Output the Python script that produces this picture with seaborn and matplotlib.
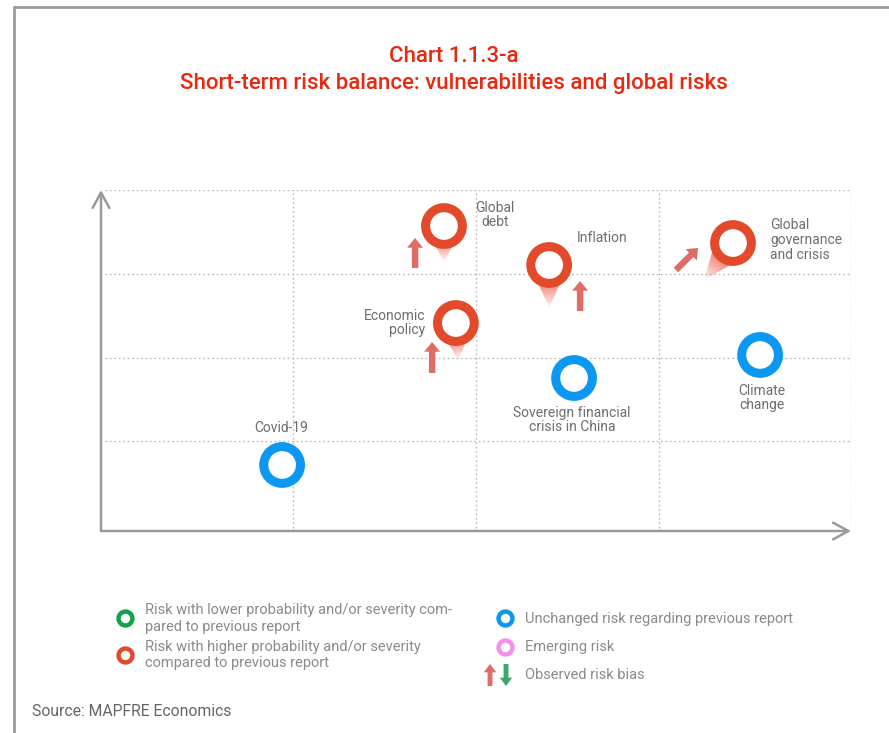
import numpy as np
import pandas as pd
import matplotlib
matplotlib.use("Agg")
import matplotlib.pyplot as plt
import seaborn as sns
from matplotlib.patches import Polygon

# ---------------- data ----------------
risks = ["Global debt", "Inflation", "Global governance and crisis", "Economic policy",
         "Sovereign financial crisis in China", "Climate change", "Covid-19"]
severity = [1.825, 2.40, 3.405, 1.89, 2.536, 3.553, 0.94]
likelihood = [3.57, 3.105, 3.367, 2.412, 1.756, 2.031, 0.718]
status = ["higher", "higher", "higher", "higher", "unchanged", "unchanged", "unchanged"]
label_text = ["Global\ndebt", "Inflation", "Global\ngovernance\nand crisis", "Economic\npolicy",
              "Sovereign financial\ncrisis in China", "Climate\nchange", "Covid-19"]
label_x = [2.104, 2.689, 3.607, 1.721, 2.525, 3.564, 0.934]
label_y = [3.701, 3.427, 3.403, 2.412, 1.255, 1.517, 1.159]
label_ha = ["center", "center", "left", "right", "center", "center", "center"]

# previous positions (trail tails) for risks that moved
trail_risk = ["Global debt", "Inflation", "Economic policy", "Global governance and crisis"]
trail_x = [1.825, 2.40, 1.902, 3.247]
trail_y = [3.14, 2.592, 1.971, 2.926]

# observed risk bias arrows (start -> end)
bias_x0 = [1.667, 2.569, 1.760, 3.093]
bias_y0 = [3.069, 2.556, 1.816, 3.045]
bias_x1 = [1.667, 2.569, 1.760, 3.214]
bias_y1 = [3.427, 2.914, 2.186, 3.308]

legend_items = ["Risk with lower probability and/or severity com-\npared to previous report",
                "Risk with higher probability and/or severity\ncompared to previous report",
                "Unchanged risk regarding previous report",
                "Emerging risk",
                "Observed risk bias"]

df = pd.DataFrame({"risk": risks, "severity": severity, "likelihood": likelihood, "status": status})

# ---------------- style ----------------
sns.set_style("white")
plt.rcParams["font.family"] = ["Roboto", "DejaVu Sans"]

RED = "#e24a2b"
BLUE = "#0c97f2"
GREEN = "#17a04b"
PINK = "#f590ea"
ARROW_RED = "#df6d66"
ARROW_GREEN = "#3aa86a"
TXT = "#6e6e6e"
LEG = "#8a8a8a"
TITLE = "#e8290f"

W, H = 889, 733
fig = plt.figure(figsize=(W / 100, H / 100), dpi=100)

# overlay axes in pixel coordinates for frame, title, legend
ov = fig.add_axes([0, 0, 1, 1], zorder=0)
ov.set_xlim(0, W)
ov.set_ylim(H, 0)
ov.axis("off")

XL = (-0.05, 4.05)
YL = (-0.07, 4.0)
ax = fig.add_axes([101 / W, (H - 531) / H, 750 / W, 341 / H], zorder=1)
ax.set_facecolor("none")
ax.set_xlim(*XL)
ax.set_ylim(*YL)

# grid (inner lines plus outer top/right boundary)
gkw = dict(color="#b8b8b8", lw=1.0, ls=(0, (1.2, 2)), zorder=1)
for v in [1, 2, 3, XL[1]]:
    ax.plot([v, v], [YL[0] + 0.04, YL[1]], **gkw)
for v in [1, 2, 3, YL[1]]:
    ax.plot([XL[0] + 0.02, XL[1]], [v, v], **gkw)

# axis arrows
ap = dict(arrowstyle="->,head_length=0.55,head_width=0.3", color="#9a9a9a", lw=1.8,
          shrinkA=0, shrinkB=0, mutation_scale=20)
ax.annotate("", xy=(XL[0], YL[1]), xytext=(XL[0], YL[0]), arrowprops=ap, zorder=2)
ax.annotate("", xy=(XL[1], YL[0]), xytext=(XL[0], YL[0]), arrowprops=ap, zorder=2)

for s in ax.spines.values():
    s.set_visible(False)
ax.set_xticks([])
ax.set_yticks([])


# gradient trails
def cone(x0, y0, x1, y1, color="#f0604a", half=19):
    p0 = ax.transData.transform((x0, y0))
    p1 = ax.transData.transform((x1, y1))
    d = p1 - p0
    L = np.hypot(*d)
    u = d / L
    n = np.array([-u[1], u[0]])
    verts = np.array([p0 + n * half, p0 - n * half, p1])
    vd = ax.transData.inverted().transform(verts)
    poly = Polygon(vd, closed=True, facecolor="none", edgecolor="none", transform=ax.transData)
    ax.add_patch(poly)
    xmin, ymin = vd.min(axis=0)
    xmax, ymax = vd.max(axis=0)
    nx, ny = 120, 120
    gx = np.linspace(xmin, xmax, nx)
    gy = np.linspace(ymin, ymax, ny)
    GX, GY = np.meshgrid(gx, gy)
    pts = ax.transData.transform(np.column_stack([GX.ravel(), GY.ravel()]))
    t = ((pts - p0) @ u) / L
    alpha = np.clip(1.25 * (1 - t) ** 0.9, 0, 1).reshape(ny, nx)
    rgba = np.zeros((ny, nx, 4))
    rgba[..., :3] = matplotlib.colors.to_rgb(color)
    rgba[..., 3] = alpha
    im = ax.imshow(rgba, extent=(xmin, xmax, ymin, ymax), origin="lower",
                   aspect="auto", zorder=2, interpolation="bilinear")
    im.set_clip_path(poly)


for r, tx, ty in zip(trail_risk, trail_x, trail_y):
    i = risks.index(r)
    cone(severity[i], likelihood[i], tx, ty)

ax.set_xlim(*XL)
ax.set_ylim(*YL)

# bias arrows
for x0, y0, x1, y1 in zip(bias_x0, bias_y0, bias_x1, bias_y1):
    ax.annotate("", xy=(x1, y1), xytext=(x0, y0),
                arrowprops=dict(width=4.6, headwidth=11.5, headlength=7, color=ARROW_RED,
                                lw=0, shrink=0), zorder=3)

# risk circles
sns.scatterplot(data=df, x="severity", y="likelihood", hue="status",
                palette={"higher": RED, "unchanged": BLUE}, s=700, linewidth=6.5,
                legend=False, ax=ax, zorder=4)
pts = ax.collections[-1]
pts.set_edgecolors(pts.get_facecolors())
pts.set_facecolors("white")
ax.set_xlabel("RISK SEVERITY", fontsize=10.5, color=TXT, labelpad=14)
ax.set_ylabel("RISK LIKELIHOOD", fontsize=10.5, color=TXT, labelpad=14)

# labels
for t, x, y, ha in zip(label_text, label_x, label_y, label_ha):
    ax.text(x, y, t, ha=ha, va="center", fontsize=10, color=TXT, linespacing=1.05, zorder=5)

# frame
ov.plot([14, W], [7, 7], color="#9c9c9c", lw=2)
ov.plot([14, 14], [7, H], color="#9c9c9c", lw=2)

# title
ov.text(454, 57, "Chart 1.1.3-a", ha="center", va="center", fontsize=16,
        fontweight="medium", color=TITLE)
ov.text(454, 84, "Short-term risk balance: vulnerabilities and global risks",
        ha="center", va="center", fontsize=16, fontweight="medium", color=TITLE)

# legend
leg_marks = [(125, 618, GREEN), (125, 655, RED), (505, 618, BLUE), (505, 647, PINK)]
leg_text_pos = [(145, 618.5), (145, 655), (525, 619), (525, 647), (525, 675)]
for (x, y, c) in leg_marks:
    ov.plot([x], [y], marker="o", markersize=10, markerfacecolor="white",
            markeredgecolor=c, markeredgewidth=3.2)
ov.annotate("", xy=(490, 664), xytext=(490, 686),
            arrowprops=dict(width=3.5, headwidth=9, headlength=6, color=ARROW_RED, lw=0, shrink=0))
ov.annotate("", xy=(506, 686), xytext=(506, 664),
            arrowprops=dict(width=3.5, headwidth=9, headlength=6, color=ARROW_GREEN, lw=0, shrink=0))
for t, (x, y) in zip(legend_items, leg_text_pos):
    ov.text(x, y, t, ha="left", va="center", fontsize=10.5, color=LEG, linespacing=1.2)

ov.text(32, 712, "Source: MAPFRE Economics", ha="left", va="center", fontsize=11.3, color="#666666")

fig.savefig("out.png", dpi=100)
